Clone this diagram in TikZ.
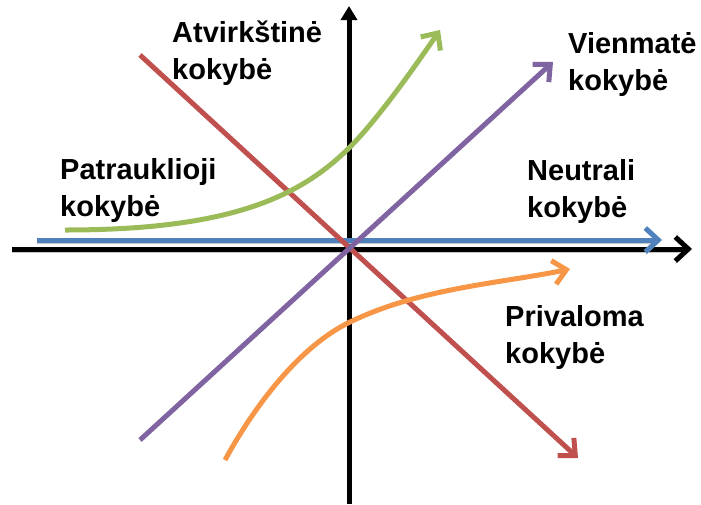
\documentclass[tikz,border=0pt]{standalone}
\usepackage{fontspec}
\setmainfont{Liberation Sans}
\usetikzlibrary{arrows.meta}

\definecolor{kblue}{HTML}{4F81BD}
\definecolor{kred}{HTML}{C0504D}
\definecolor{kgreen}{HTML}{9BBB59}
\definecolor{kpurple}{HTML}{8064A2}
\definecolor{korange}{HTML}{F79646}

\tikzset{
  axis/.style={line width=5pt, black},
  qline/.style={line width=5pt, -{Straight Barb[length=13pt, width=24pt]}},
  shadowed/.style={preaction={draw=black!22, transform canvas={yshift=-3pt}}},
  quallabel/.style={anchor=north west, inner sep=0pt, align=left,
    font=\bfseries\fontsize{29}{37}\selectfont}
}

\begin{document}
\begin{tikzpicture}[x=1pt, y=-1pt]
    \useasboundingbox (0,0) rectangle (701,504);

    % Axes
    \coordinate (xl) at (12,249);
    \coordinate (xr) at (692,249);
    \coordinate (yb) at (349,504);
    \coordinate (yt) at (349,6);
    \draw[axis, shadowed, -{Straight Barb[length=13pt, width=24pt]}] (xl) -- (xr);
    \draw[axis, -{Triangle[length=14pt, width=16pt]}] (yb) -- (yt);

    % Neutral quality
    \coordinate (n1) at (37,240);
    \coordinate (n2) at (662,240);
    \draw[qline, kblue, shadowed] (n1) -- (n2);

    % Reverse quality
    \coordinate (r1) at (140,55);
    \coordinate (r2) at (578,458);
    \draw[qline, kred] (r1) -- (r2);

    % One-dimensional quality
    \coordinate (v1) at (140,440);
    \coordinate (v2) at (553,62);
    \draw[qline, kpurple] (v1) -- (v2);

    % Attractive quality
    \coordinate (p1) at (65,230);
    \coordinate (pm) at (350,147);
    \coordinate (p2) at (440,30);
    \draw[qline, kgreen] (p1) .. controls (230,230) and (300,197) .. (pm)
        .. controls (380,117) and (420,59) .. (p2);

    % Must-be quality
    \coordinate (m1) at (225,460);
    \coordinate (mm) at (350,322);
    \coordinate (m2) at (570,269);
    \draw[qline, korange] (m1) .. controls (255,405) and (300,346) .. (mm)
        .. controls (420,288) and (500,283.5) .. (m2);

    % Labels
    \node[quallabel] (atv) at (172,21) {Atvirkštinė\\kokybė};
    \node[quallabel] (vien) at (568,32) {Vienmatė\\kokybė};
    \node[quallabel] (patr) at (60,158) {Patrauklioji\\kokybė};
    \node[quallabel] (neut) at (527,159) {Neutrali\\kokybė};
    \node[quallabel] (priv) at (505,305) {Privaloma\\kokybė};
\end{tikzpicture}
\end{document}
